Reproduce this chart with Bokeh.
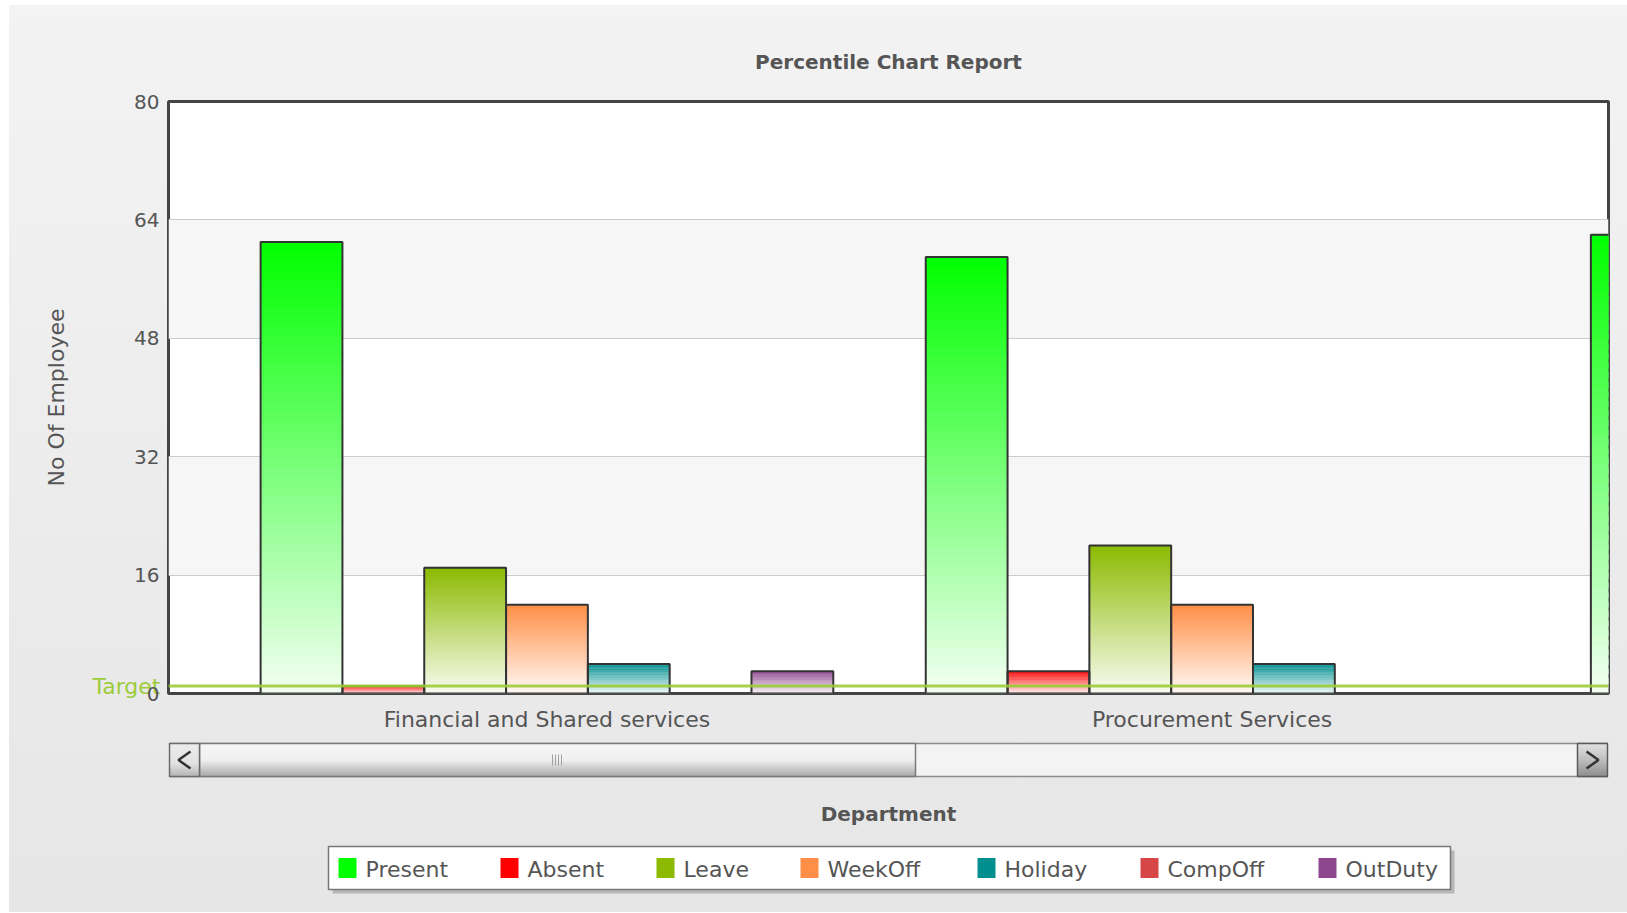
import numpy as np
from bokeh.plotting import figure
from bokeh.models import Range1d, FixedTicker, Span, LinearAxis, ColumnDataSource
from bokeh.layouts import column
from bokeh.embed import file_html
from bokeh.resources import INLINE
from bokeh.core.properties import value

# ---------------- data ----------------
DEPARTMENTS = ["Financial and Shared services", "Procurement Services", "Next Department"]
SERIES = ["Present", "Absent", "Leave", "WeekOff", "Holiday", "CompOff", "OutDuty"]
COLORS = ["#00FF00", "#FF0000", "#8BBA00", "#FF8E46", "#008E8E", "#D64646", "#8E468E"]
PRESENT = [61, 59, 62]
ABSENT = [1, 3, 0]
LEAVE = [17, 20, 0]
WEEKOFF = [12, 12, 0]
HOLIDAY = [4, 4, 0]
COMPOFF = [0, 0, 0]
OUTDUTY = [3, 0, 0]
VALUES = [PRESENT, ABSENT, LEAVE, WEEKOFF, HOLIDAY, COMPOFF, OUTDUTY]
TARGET = 1
TARGET_LABEL = "Target"
Y_TICKS = [0, 16, 32, 48, 64, 80]

FONT = "DejaVu Sans"
TXT = "#555555"
TARGET_COLOR = "#9ccc3a"
BW = 0.123      # bar width in category units
NSEG = 48
FRAME_L, FRAME_R = 159, 1599


def mix(hexcol, t):
    """blend colour with white, t=0 -> colour, t=1 -> white"""
    h = hexcol.lstrip("#")
    r, g, b = (int(h[i:i + 2], 16) for i in (0, 2, 4))
    r = round(r + (255 - r) * t)
    g = round(g + (255 - g) * t)
    b = round(b + (255 - b) * t)
    return "#%02x%02x%02x" % (r, g, b)


# ---------------- main chart ----------------
p = figure(width=1618, height=733,
           x_range=Range1d(-0.569, 1.596), y_range=Range1d(0, 80),
           output_backend="svg", toolbar_location=None,
           min_border_left=FRAME_L, min_border_right=1618 - FRAME_R,
           min_border_top=96, min_border_bottom=45,
           background_fill_color="white",
           border_fill_alpha=0,
           outline_line_color="#444444", outline_line_width=3,
           title="Percentile Chart Report")

p.title.align = "center"
p.title.text_font = FONT
p.title.text_font_size = "20px"
p.title.text_font_style = "bold"
p.title.text_color = TXT
p.title.standoff = 55

p.xgrid.visible = False
p.ygrid.ticker = FixedTicker(ticks=Y_TICKS)
p.ygrid.grid_line_color = "#cccccc"
p.ygrid.band_fill_color = "#f6f6f6"
p.ygrid.band_fill_alpha = 1.0


def style_axis(ax):
    ax.axis_line_color = None
    ax.major_tick_line_color = None
    ax.minor_tick_line_color = None
    ax.major_tick_out = 0
    ax.major_tick_in = 0
    ax.major_label_text_font = FONT


# inner left axis: the target label
ya = p.yaxis[0]
style_axis(ya)
ya.ticker = FixedTicker(ticks=[TARGET])
ya.major_label_overrides = {TARGET: TARGET_LABEL}
ya.major_label_standoff = 8
ya.major_label_text_font_size = "22px"
ya.major_label_text_color = TARGET_COLOR

# outer left axis: values and title
yv = LinearAxis()
style_axis(yv)
yv.ticker = FixedTicker(ticks=Y_TICKS)
yv.major_label_standoff = -70
yv.major_label_text_font_size = "20px"
yv.major_label_text_color = TXT
yv.axis_label = "No Of Employee"
yv.axis_label_text_font = FONT
yv.axis_label_text_font_size = "22px"
yv.axis_label_text_font_style = "normal"
yv.axis_label_text_color = TXT
yv.axis_label_standoff = 62
p.add_layout(yv, "left")

p.xaxis.ticker = FixedTicker(ticks=list(range(len(DEPARTMENTS))))
p.xaxis.major_label_overrides = {i: d for i, d in enumerate(DEPARTMENTS)}
style_axis(p.xaxis[0])
p.xaxis.major_label_standoff = 13
p.xaxis.major_label_text_font_size = "22px"
p.xaxis.major_label_text_color = TXT

seg = dict(left=[], right=[], bottom=[], top=[], color=[])
outl = dict(left=[], right=[], bottom=[], top=[])
nser = len(SERIES)
for s, (vals, col) in enumerate(zip(VALUES, COLORS)):
    for c, v in enumerate(vals):
        if v <= 0:
            continue
        x0 = c + (s - nser / 2) * BW
        for k in range(NSEG):
            b = v * k / NSEG
            t = v * min(1.0, (k + 1.6) / NSEG)
            frac = (k + 0.5) / NSEG          # 0 at bottom, 1 at top
            seg["left"].append(x0)
            seg["right"].append(x0 + BW)
            seg["bottom"].append(b)
            seg["top"].append(t)
            seg["color"].append(mix(col, 0.95 * (1 - frac)))
        outl["left"].append(x0)
        outl["right"].append(x0 + BW)
        outl["bottom"].append(0)
        outl["top"].append(v)

p.quad(left="left", right="right", bottom="bottom", top="top",
       fill_color="color", line_color=None, source=ColumnDataSource(seg))
p.quad(left="left", right="right", bottom="bottom", top="top",
       fill_color=None, line_color="#333333", line_width=2,
       source=ColumnDataSource(outl))

p.add_layout(Span(location=TARGET, dimension="width", line_color=TARGET_COLOR,
                  line_width=3, line_alpha=0.9))

# ---------------- scrollbar, axis title, legend ----------------
H2 = 174
q = figure(width=1618, height=H2, x_range=Range1d(FRAME_L, FRAME_R), y_range=Range1d(H2, 0),
           output_backend="svg", toolbar_location=None, min_border=0,
           min_border_left=FRAME_L, min_border_right=1618 - FRAME_R,
           x_axis_type=None, y_axis_type=None,
           background_fill_alpha=0, border_fill_alpha=0, outline_line_color=None)
q.grid.visible = False


def grad_box(x0, x1, y0, y1, stops, n=22):
    ys = np.linspace(y0, y1, n + 1)
    cols = []
    for i in range(n):
        f = (i + 0.5) / n
        g = stops[-1][1]
        for (fa, ga), (fb, gb) in zip(stops[:-1], stops[1:]):
            if fa <= f <= fb:
                g = ga + (gb - ga) * (f - fa) / (fb - fa)
                break
        g = int(round(g))
        cols.append("#%02x%02x%02x" % (g, g, g))
    q.quad(left=[x0] * n, right=[x1] * n, top=list(ys[:-1]),
           bottom=[min(y1, y + (y1 - y0) / n + 0.6) for y in ys[:-1]],
           fill_color=cols, line_color=None)


SB_L, SB_R = FRAME_L + 1, FRAME_R - 1
SB_Y0, SB_Y1 = 5, 38
# track
q.quad(left=[SB_L], right=[SB_R], top=[SB_Y0], bottom=[SB_Y1],
       fill_color="#f3f3f3", line_color="#8a8a8a", line_width=1.5)
# thumb
grad_box(190, 906, SB_Y0, SB_Y1, [(0, 246), (0.5, 240), (1, 168)])
q.quad(left=[190], right=[906], top=[SB_Y0], bottom=[SB_Y1],
       fill_color=None, line_color="#7a7a7a", line_width=1.5)
q.segment(x0=[543, 546, 549, 552], x1=[543, 546, 549, 552],
          y0=[16] * 4, y1=[27] * 4, line_color="#a0a0a0", line_width=1)
# left button
grad_box(SB_L, 190, SB_Y0, SB_Y1, [(0, 236), (0.6, 226), (1, 180)])
q.quad(left=[SB_L], right=[190], top=[SB_Y0], bottom=[SB_Y1],
       fill_color=None, line_color="#6a6a6a", line_width=1.5)
q.line(x=[181, 169, 181], y=[13, 21.5, 30], line_color="#333333", line_width=2.5)
# right button
grad_box(1568, SB_R, SB_Y0, SB_Y1, [(0, 226), (0.5, 190), (1, 140)])
q.quad(left=[1568], right=[SB_R], top=[SB_Y0], bottom=[SB_Y1],
       fill_color=None, line_color="#5a5a5a", line_width=1.5)
q.line(x=[1577, 1589, 1577], y=[13, 21.5, 30], line_color="#333333", line_width=2.5)

# x axis title
q.text(x=[879], y=[75], text=["Department"], text_align="center", text_baseline="middle",
       text_font=value(FONT), text_font_size="20px", text_font_style="bold", text_color=TXT)

# legend
LG_X0, LG_X1, LG_Y0, LG_Y1 = 319, 1441, 108, 151
q.quad(left=[LG_X0 + 4], right=[LG_X1 + 4], top=[LG_Y0 + 4], bottom=[LG_Y1 + 4],
       fill_color="#8a8a8a", fill_alpha=0.5, line_color=None)
q.quad(left=[LG_X0], right=[LG_X1], top=[LG_Y0], bottom=[LG_Y1],
       fill_color="white", line_color="#777777", line_width=1.5)
LEG_ITEM_X = [329, 491, 647, 791, 968, 1131, 1309]
ymid = (LG_Y0 + LG_Y1) / 2
q.quad(left=LEG_ITEM_X, right=[x + 18 for x in LEG_ITEM_X],
       top=[ymid - 10] * len(SERIES), bottom=[ymid + 10] * len(SERIES),
       fill_color=COLORS, line_color=None)
q.text(x=[x + 27 for x in LEG_ITEM_X], y=[ymid + 1] * len(SERIES), text=SERIES,
       text_align="left", text_baseline="middle",
       text_font=value(FONT), text_font_size="22px", text_color=TXT)

layout = column(p, q, spacing=0, margin=(5, 0, 0, 9),
                styles={"background": "linear-gradient(to bottom, #f3f3f3, #e6e6e6)"})

open("out.html", "w").write(file_html(layout, INLINE))
